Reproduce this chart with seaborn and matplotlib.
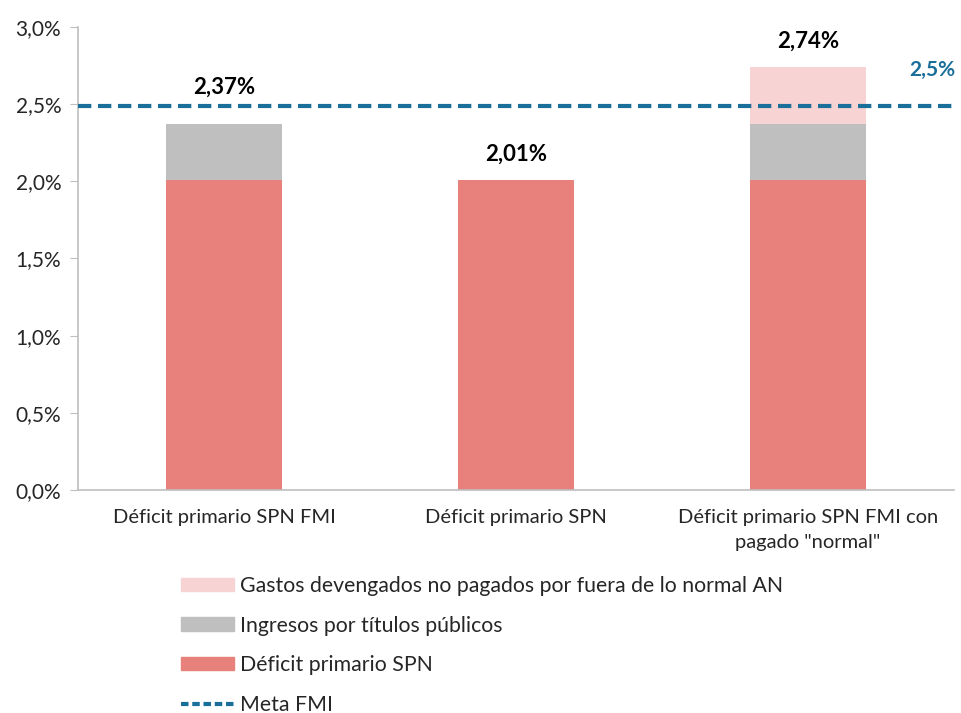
import matplotlib
matplotlib.use('Agg')
import matplotlib.pyplot as plt
import matplotlib.transforms as mtransforms
from matplotlib.patches import Patch
from matplotlib.lines import Line2D
import seaborn as sns
import pandas as pd

sns.set_style('white')
plt.rcParams['font.family'] = ['Lato', 'DejaVu Sans']

categorias = ['Déficit primario SPN FMI', 'Déficit primario SPN',
              'Déficit primario SPN FMI con\npagado "normal"']
deficit = [2.01, 2.01, 2.01]
ingresos = [0.36, 0.0, 0.36]
gastos = [0.0, 0.0, 0.37]
totales_txt = ['2,37%', '2,01%', '2,74%']
meta_fmi = 2.485

c_def = '#E8807C'
c_ing = '#BFBFBF'
c_gas = '#F8D3D3'
c_meta = '#1A6E9A'

df = pd.DataFrame({'cat': categorias, 'def': deficit, 'ing': ingresos, 'gas': gastos})
df['nivel2'] = df['def'] + df['ing']
df['nivel3'] = df['nivel2'] + df['gas']

fig = plt.figure(figsize=(9.62, 7.13), dpi=100)
ax = fig.add_axes([0.081, 0.3128, 0.9107, 0.6494])

sns.barplot(data=df, x='cat', y='nivel3', color=c_gas, width=0.4, saturation=1, linewidth=0, ax=ax)
sns.barplot(data=df, x='cat', y='nivel2', color=c_ing, width=0.4, saturation=1, linewidth=0, ax=ax)
sns.barplot(data=df, x='cat', y='def', color=c_def, width=0.4, saturation=1, linewidth=0, ax=ax)

ax.axhline(meta_fmi, color=c_meta, lw=3, ls=(0, (3.2, 1.6)), zorder=5, xmax=1.004, clip_on=False)

for i, (tot, txt) in enumerate(zip(df['nivel3'], totales_txt)):
    off = 37 if i == 0 else 26
    ax.annotate(txt, (i, tot), xytext=(0, off), textcoords='offset pixels',
                ha='center', va='center', fontsize=16, fontweight='bold', color='black')

trans = mtransforms.blended_transform_factory(ax.transAxes, ax.transData)
ax.text(1.002, 2.72, '2,5%', transform=trans, ha='right', va='center',
        fontsize=15, fontweight='bold', color=c_meta)

ax.set_ylim(0, 3.0)
ax.set_xlim(-0.5, 2.5)
ax.set_yticks([0, 0.5, 1.0, 1.5, 2.0, 2.5, 3.0])
ax.set_yticklabels(['0,0%', '0,5%', '1,0%', '1,5%', '2,0%', '2,5%', '3,0%'], fontsize=15)
ax.set_xticks(range(3))
ax.set_xticklabels(categorias, fontsize=14.5, linespacing=1.55)
ax.set_xlabel('')
ax.set_ylabel('')
ax.tick_params(axis='y', which='major', left=True, length=6, color='#BFBFBF', pad=6)
ax.tick_params(axis='x', length=0, pad=14)
for s in ['top', 'right']:
    ax.spines[s].set_visible(False)
for s in ['left', 'bottom']:
    ax.spines[s].set_color('#BFBFBF')
    ax.spines[s].set_linewidth(1.2)

handles = [Patch(color=c_gas), Patch(color=c_ing), Patch(color=c_def),
           Line2D([0], [0], color=c_meta, lw=3, ls=(0, (1.8, 0.9)))]
labels = ['Gastos devengados no pagados por fuera de lo normal AN',
          'Ingresos por títulos públicos', 'Déficit primario SPN', 'Meta FMI']
fig.legend(handles, labels, loc='upper left', bbox_to_anchor=(0.179, 0.204),
           frameon=False, fontsize=15.3, handlelength=2.5, handleheight=0.6,
           handletextpad=0.3, labelspacing=0.92, borderaxespad=0)

fig.savefig('out.png', dpi=100)
